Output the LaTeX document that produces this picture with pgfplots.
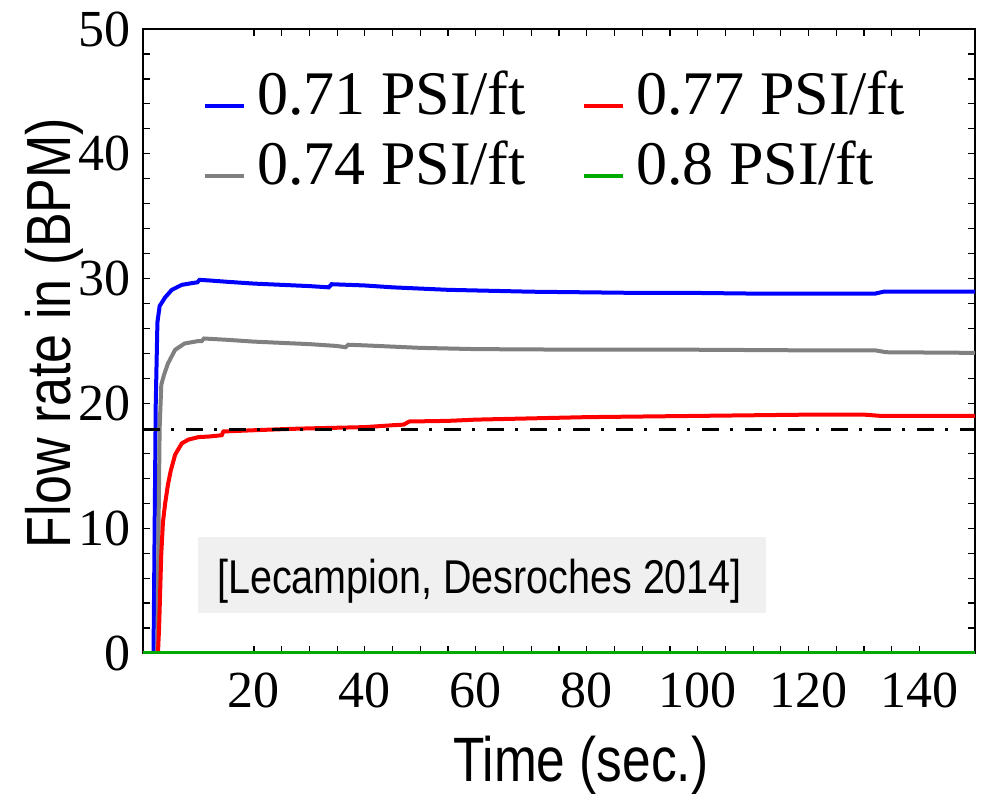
\documentclass[border=0pt]{standalone}
\usepackage{pgfplots}
\pgfplotsset{compat=1.18}
\usepackage{fontspec}
\setmainfont{Liberation Serif}
\newfontfamily\arial{Liberation Sans}
\usepackage{graphicx}
\definecolor{cblue}{RGB}{0,0,255}
\definecolor{cred}{RGB}{255,0,0}
\definecolor{cgray}{RGB}{128,128,128}
\definecolor{cgreen}{RGB}{0,170,0}
\definecolor{boxgray}{RGB}{240,240,240}
\pgfplotsset{
  mylegend/.style={
    legend cell align=left,
    legend image code/.code={\draw[##1] (0pt,-6pt) -- (19.5pt,-6pt); \path (23pt,-6pt);},
    legend style={draw=none, fill=none, at={(axis description cs:#1,0.946)}, anchor=north west,
      font=\fontsize{31}{37}\selectfont, row sep=7.5pt},
  },
}
\begin{document}
\begin{tikzpicture}
\useasboundingbox (-71.5pt,-70.5pt) rectangle (421.5pt,326.5pt);
\begin{axis}[
  at={(0pt,0pt)}, anchor=south west,
  scale only axis, width=416pt, height=312pt,
  xmin=0, xmax=150, ymin=0, ymax=50,
  xtick={20,40,...,140}, minor x tick num=3,
  ytick={0,10,...,50}, minor y tick num=4,
  tick align=inside,
  major tick length=3.5pt, minor tick length=3.5pt,
  tick style={black, line width=0.6pt},
  axis line style={black, line width=0.8pt},
  /pgf/number format/assume math mode=true,
  ticklabel style={font=\fontsize{26}{26}\selectfont},
  yticklabel style={inner sep=0pt, xshift=-6pt},
  xticklabel style={inner sep=0pt, anchor=north, yshift=-10pt},
  xlabel={\arial\scalebox{1}[1.22]{Time (sec.)}},
  ylabel={\arial\scalebox{1}[1.2]{Flow rate in (BPM)}},
  xlabel style={font=\fontsize{25.7}{30}\selectfont, at={(axis description cs:0.526,-0.2067)}, anchor=base, inner sep=0pt},
  ylabel style={font=\fontsize{26}{30}\selectfont, at={(axis description cs:-0.0877,0.513)}, anchor=base, inner sep=0pt},
  mylegend=0.0646,
]
\fill[boxgray] (axis cs:9.9,3.2) rectangle (axis cs:112.4,9.3);
\node[anchor=base west, font=\arial\fontsize{19.75}{24}\selectfont, inner sep=0pt] at (axis cs:13.3,4.8) {\scalebox{1}[1.2]{[Lecampion, Desroches 2014]}};
\addplot[cblue, line width=2pt] coordinates {
(0,0) (1.9,0) (2.1,10) (2.3,20) (2.6,26.5) (3.0,27.8) (4,28.5) (5.2,29.1) (7,29.5) (9,29.65) (9.8,29.7) (10.2,29.9) (12,29.85) (15,29.75) (20,29.6) (25,29.5) (30,29.4) (33.5,29.3) (34,29.55) (37,29.5) (40,29.45) (45,29.3) (50,29.2) (55,29.1) (60,29.05) (70,28.95) (80,28.9) (90,28.85) (100,28.85) (110,28.8) (120,28.8) (130,28.8) (132,28.8) (133.5,28.95) (140,28.95) (150,28.95)
};
\addlegendentry{0.71 PSI/ft}
\addplot[cgray, line width=2pt] coordinates {
(0,0) (2.6,0) (2.8,10) (3.0,18) (3.3,21.5) (3.8,22.3) (4.5,23.2) (5.8,24.3) (7.5,24.8) (10,25.0) (10.6,25.0) (11,25.2) (13,25.15) (15,25.1) (20,24.95) (25,24.85) (30,24.75) (35,24.6) (36.5,24.5) (37,24.7) (40,24.65) (45,24.55) (50,24.45) (60,24.35) (80,24.3) (100,24.3) (120,24.25) (132,24.25) (134,24.1) (150,24.05)
};
\addlegendentry{0.74 PSI/ft}
\addplot[cred, line width=2pt, forget plot] coordinates {
(0,0) (2.7,0) (2.9,2) (3.1,5) (3.3,8) (3.6,10.5) (4.0,12) (4.5,13.5) (5.0,14.6) (5.8,15.9) (7,16.8) (8.2,17.1) (10,17.3) (12,17.35) (14.2,17.45) (14.5,17.75) (20,17.85) (26,17.95) (30,18.0) (35,18.05) (40,18.1) (45,18.25) (47,18.3) (48,18.55) (55,18.6) (60,18.7) (70,18.8) (80,18.9) (90,18.95) (100,19.0) (110,19.05) (120,19.1) (130,19.1) (133,19.0) (150,19.0)
};
\addplot[cgreen, line width=2pt, forget plot] coordinates {(0,0) (150,0)};
\addplot[black, line width=1.8pt, dash pattern=on 8.5pt off 5.5pt on 1.5pt off 6pt, forget plot] coordinates {(0,17.9) (150,17.9)};
\end{axis}
\begin{axis}[
  at={(0pt,0pt)}, anchor=south west,
  scale only axis, width=416pt, height=312pt,
  xmin=0, xmax=150, ymin=0, ymax=50,
  hide axis,
  mylegend=0.5201,
]
\addlegendimage{cred, line width=2pt}
\addlegendentry{0.77 PSI/ft}
\addlegendimage{cgreen, line width=2pt}
\addlegendentry{0.8 PSI/ft}
\end{axis}
\end{tikzpicture}
\end{document}
